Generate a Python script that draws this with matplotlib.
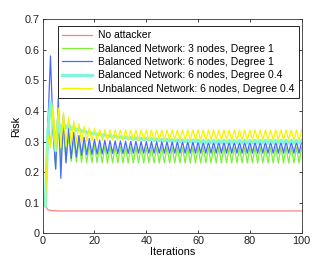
import matplotlib
matplotlib.use("Agg")
import matplotlib.pyplot as plt

plt.rcParams['font.family'] = ['Liberation Sans', 'DejaVu Sans']

iterations = list(range(1, 101))

no_attacker = [
    0.090, 0.077, 0.075, 0.074, 0.074, 0.073, 0.073, 0.073, 0.073, 0.073,
    0.073, 0.073, 0.073, 0.073, 0.073, 0.073, 0.073, 0.073, 0.073, 0.073,
    0.073, 0.073, 0.073, 0.073, 0.073, 0.073, 0.073, 0.073, 0.073, 0.073,
    0.073, 0.073, 0.073, 0.073, 0.073, 0.073, 0.073, 0.073, 0.073, 0.073,
    0.073, 0.073, 0.073, 0.073, 0.073, 0.073, 0.073, 0.073, 0.073, 0.073,
    0.073, 0.073, 0.073, 0.073, 0.073, 0.073, 0.073, 0.073, 0.073, 0.073,
    0.073, 0.073, 0.073, 0.073, 0.073, 0.073, 0.073, 0.073, 0.073, 0.073,
    0.073, 0.073, 0.073, 0.073, 0.073, 0.073, 0.073, 0.073, 0.073, 0.073,
    0.073, 0.073, 0.073, 0.073, 0.073, 0.073, 0.073, 0.073, 0.073, 0.073,
    0.073, 0.073, 0.073, 0.073, 0.073, 0.073, 0.073, 0.073, 0.073, 0.073,
]

bal_3_deg1 = [
    0.090, 0.380, 0.290, 0.360, 0.210, 0.350, 0.240, 0.335, 0.235, 0.320,
    0.235, 0.310, 0.233, 0.302, 0.232, 0.296, 0.231, 0.292, 0.231, 0.289,
    0.231, 0.287, 0.230, 0.285, 0.230, 0.284, 0.230, 0.283, 0.230, 0.283,
    0.230, 0.282, 0.230, 0.282, 0.230, 0.282, 0.230, 0.281, 0.230, 0.281,
    0.230, 0.281, 0.230, 0.281, 0.230, 0.281, 0.230, 0.281, 0.230, 0.281,
    0.230, 0.281, 0.230, 0.281, 0.230, 0.281, 0.230, 0.281, 0.230, 0.281,
    0.230, 0.281, 0.230, 0.281, 0.230, 0.281, 0.230, 0.281, 0.230, 0.281,
    0.230, 0.281, 0.230, 0.281, 0.230, 0.281, 0.230, 0.281, 0.230, 0.281,
    0.230, 0.281, 0.230, 0.281, 0.230, 0.281, 0.230, 0.281, 0.230, 0.281,
    0.230, 0.281, 0.230, 0.281, 0.230, 0.281, 0.230, 0.281, 0.230, 0.281,
]

bal_6_deg1 = [
    0.090, 0.350, 0.580, 0.330, 0.210, 0.440, 0.180, 0.390, 0.230, 0.350,
    0.245, 0.330, 0.250, 0.320, 0.255, 0.314, 0.257, 0.310, 0.258, 0.307,
    0.259, 0.305, 0.260, 0.304, 0.260, 0.303, 0.261, 0.302, 0.261, 0.302,
    0.261, 0.301, 0.261, 0.301, 0.262, 0.301, 0.262, 0.300, 0.262, 0.300,
    0.262, 0.300, 0.262, 0.300, 0.262, 0.300, 0.262, 0.300, 0.262, 0.300,
    0.262, 0.300, 0.262, 0.300, 0.262, 0.300, 0.262, 0.300, 0.262, 0.300,
    0.262, 0.300, 0.262, 0.300, 0.262, 0.300, 0.262, 0.300, 0.262, 0.300,
    0.262, 0.300, 0.262, 0.300, 0.262, 0.300, 0.262, 0.300, 0.262, 0.300,
    0.262, 0.300, 0.262, 0.300, 0.262, 0.300, 0.262, 0.300, 0.262, 0.300,
    0.262, 0.300, 0.262, 0.300, 0.262, 0.300, 0.262, 0.300, 0.262, 0.300,
]

bal_6_deg04 = [
    0.090, 0.330, 0.430, 0.370, 0.270, 0.370, 0.330, 0.360, 0.345, 0.355,
    0.340, 0.348, 0.336, 0.342, 0.332, 0.337, 0.328, 0.333, 0.325, 0.329,
    0.322, 0.326, 0.319, 0.323, 0.316, 0.320, 0.314, 0.318, 0.312, 0.316,
    0.310, 0.314, 0.309, 0.313, 0.307, 0.312, 0.306, 0.311, 0.305, 0.310,
    0.304, 0.309, 0.303, 0.308, 0.302, 0.307, 0.302, 0.307, 0.301, 0.306,
    0.301, 0.306, 0.300, 0.305, 0.300, 0.305, 0.299, 0.305, 0.299, 0.305,
    0.295, 0.304, 0.295, 0.304, 0.295, 0.304, 0.295, 0.304, 0.295, 0.304,
    0.295, 0.304, 0.295, 0.304, 0.295, 0.304, 0.295, 0.304, 0.295, 0.304,
    0.295, 0.304, 0.295, 0.304, 0.295, 0.304, 0.295, 0.304, 0.295, 0.304,
    0.295, 0.304, 0.295, 0.304, 0.295, 0.304, 0.295, 0.304, 0.295, 0.304,
]

unbal_6_deg04 = [
    0.090, 0.320, 0.280, 0.420, 0.270, 0.410, 0.280, 0.395, 0.285, 0.380,
    0.290, 0.368, 0.295, 0.358, 0.298, 0.350, 0.300, 0.345, 0.302, 0.342,
    0.303, 0.340, 0.304, 0.339, 0.305, 0.339, 0.305, 0.338, 0.305, 0.338,
    0.305, 0.338, 0.305, 0.338, 0.305, 0.338, 0.305, 0.338, 0.305, 0.338,
    0.305, 0.338, 0.305, 0.338, 0.305, 0.338, 0.305, 0.338, 0.305, 0.338,
    0.305, 0.338, 0.305, 0.338, 0.305, 0.338, 0.305, 0.338, 0.305, 0.338,
    0.305, 0.338, 0.305, 0.338, 0.305, 0.338, 0.305, 0.338, 0.305, 0.338,
    0.305, 0.338, 0.305, 0.338, 0.305, 0.338, 0.305, 0.338, 0.305, 0.338,
    0.305, 0.338, 0.305, 0.338, 0.305, 0.338, 0.305, 0.338, 0.305, 0.338,
    0.305, 0.338, 0.305, 0.338, 0.305, 0.338, 0.305, 0.338, 0.305, 0.338,
]

labels = [
    "No attacker",
    "Balanced Network: 3 nodes, Degree 1",
    "Balanced Network: 6 nodes, Degree 1",
    "Balanced Network: 6 nodes, Degree 0.4",
    "Unbalanced Network: 6 nodes, Degree 0.4",
]

fig = plt.figure(figsize=(3.32, 2.64), dpi=100)
ax = fig.add_axes([0.1286, 0.1163, 0.78, 0.8107])

ax.plot(iterations, no_attacker, color='#ff8080', lw=0.9, label=labels[0])
ax.plot(iterations, bal_3_deg1, color='#7cf03a', lw=0.9, label=labels[1])
ax.plot(iterations, bal_6_deg1, color='#4a68ff', lw=0.9, label=labels[2])
ax.plot(iterations, bal_6_deg04, color='#7ef5dc', lw=2.2, label=labels[3])
ax.plot(iterations, unbal_6_deg04, color='#f5f500', lw=0.9, label=labels[4])

ax.set_xlim(0, 100)
ax.set_ylim(0, 0.7)
ax.set_xticks([0, 20, 40, 60, 80, 100])
ax.set_yticks([0, 0.1, 0.2, 0.3, 0.4, 0.5, 0.6, 0.7])
ax.set_yticklabels(['0', '0.1', '0.2', '0.3', '0.4', '0.5', '0.6', '0.7'])
ax.tick_params(direction='in', top=True, right=True, labelsize=7.8,
               length=2.5, width=0.6, pad=2, colors='#222222')
for s in ax.spines.values():
    s.set_linewidth(0.6)
    s.set_color('#333333')
ax.set_xlabel('Iterations', fontsize=7.8, labelpad=1)
ax.set_ylabel('Risk', fontsize=7.8, labelpad=3)

leg = ax.legend(loc='upper right', bbox_to_anchor=(0.988, 0.968),
                fontsize=7.5, frameon=True, fancybox=False,
                edgecolor='#222222', framealpha=1, handlelength=2.9,
                borderpad=0.4, labelspacing=0.32, handletextpad=0.55,
                borderaxespad=0.0)
leg.get_frame().set_linewidth(0.7)

fig.savefig('out.png', dpi=100)
